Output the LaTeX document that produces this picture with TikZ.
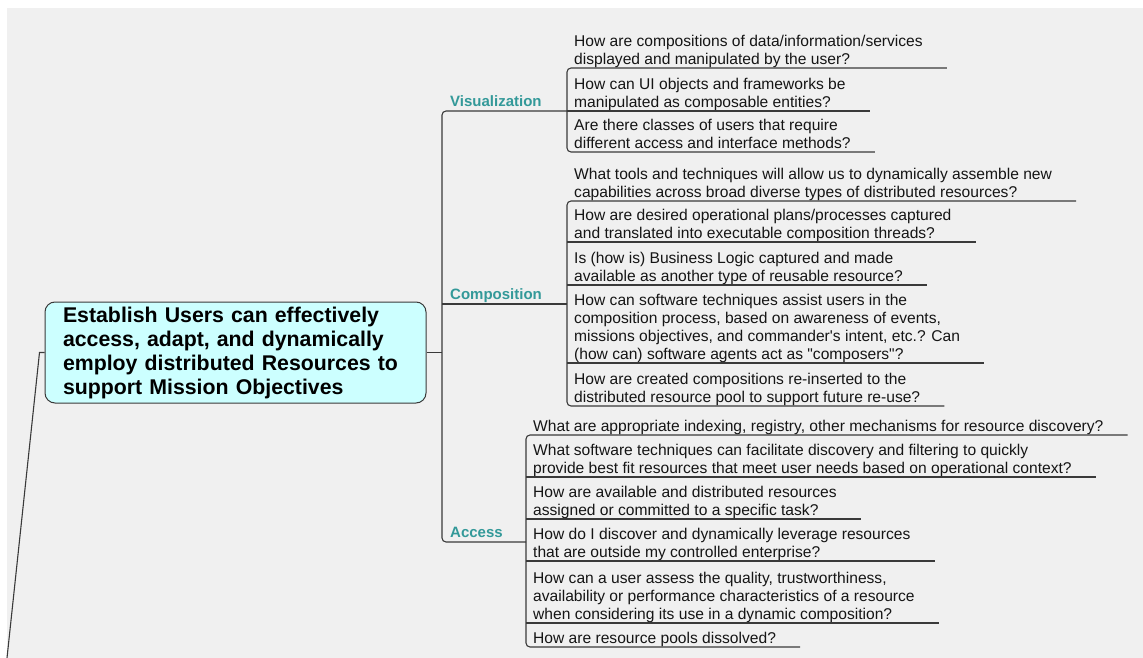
\documentclass[tikz,border=0pt]{standalone}
\usepackage{fontspec}
\setmainfont{Liberation Sans}
\usetikzlibrary{calc}
\definecolor{mapbg}{HTML}{F0F0F0}
\definecolor{mapcyan}{HTML}{CCFFFF}
\definecolor{mapteal}{HTML}{339999}
\definecolor{mapline}{HTML}{3A3A3A}
\definecolor{maptext}{HTML}{151515}
\tikzset{
  central/.style={draw=mapline, fill=mapcyan, rounded corners=10pt, line width=1pt, minimum width=381pt, minimum height=101pt, text width=345pt, align=left, font=\fontsize{21.3}{24}\selectfont\bfseries, text=black},
  topic/.style={anchor=south west, inner xsep=8pt, inner ysep=-1pt, font=\fontsize{15}{18}\selectfont\bfseries, text=mapteal, execute at end node=\strut},
  leaf/.style={anchor=south west, inner xsep=7pt, inner ysep=-2.5pt, align=left, font=\fontsize{15.6}{18}\selectfont, text=maptext, execute at end node=\strut},
  branch/.style={draw=mapline, line width=1.1pt},
}

\begin{document}
\begin{tikzpicture}[x=1pt, y=-1pt]
    \useasboundingbox (0,0) rectangle (1143,658);
    \fill[mapbg] (7,8) rectangle (1143,658);

    \node[central] (root) at (235.5,352.5) {Establish Users can effectively\\access, adapt, and dynamically\\employ distributed Resources to\\support Mission Objectives};

    \node[topic] (vis) at (442,111) {Visualization};
    \node[topic] (comp) at (442,304) {Composition};
    \node[topic] (acc) at (442,542) {Access};

    % visualization questions
    \node[leaf] (v1) at (567,68) {How are compositions of data/information/services\\displayed and manipulated by the user?};
    \node[leaf] (v2) at (567,111) {How can UI objects and frameworks be\\manipulated as composable entities?};
    \node[leaf] (v3) at (567,152) {Are there classes of users that require\\different access and interface methods?};

    % composition questions
    \node[leaf] (c1) at (567,201) {What tools and techniques will allow us to dynamically assemble new\\capabilities across broad diverse types of distributed resources?};
    \node[leaf] (c2) at (567,242) {How are desired operational plans/processes captured\\and translated into executable composition threads?};
    \node[leaf] (c3) at (567,285) {Is (how is) Business Logic captured and made\\available as another type of reusable resource?};
    \node[leaf] (c4) at (567,363) {How can software techniques assist users in the\\composition process, based on awareness of events,\\missions objectives, and commander\textquotesingle s intent, etc.? Can\\(how can) software agents act as \textquotedbl composers\textquotedbl ?};
    \node[leaf] (c5) at (567,406) {How are created compositions re-inserted to the\\distributed resource pool to support future re-use?};

    % access questions
    \node[leaf] (a1) at (526,435) {What are appropriate indexing, registry, other mechanisms for resource discovery?};
    \node[leaf] (a2) at (526,477) {What software techniques can facilitate discovery and filtering to quickly\\provide best fit resources that meet user needs based on operational context?};
    \node[leaf] (a3) at (526,519) {How are available and distributed resources\\assigned or committed to a specific task?};
    \node[leaf] (a4) at (526,561) {How do I discover and dynamically leverage resources\\that are outside my controlled enterprise?};
    \node[leaf] (a5) at (526,623) {How can a user assess the quality, trustworthiness,\\availability or performance characteristics of a resource\\when considering its use in a dynamic composition?};
    \node[leaf] (a6) at (526,647) {How are resource pools dissolved?};

    \coordinate (tail) at (7,658);
    \draw[branch] (root.west) -- ++(-5,0) -- (tail);
    \draw[branch] (root.east) -- (root.east -| vis.south west);
    \draw[branch, rounded corners=4pt] (vis.south west -| v1.south west) -- (vis.south west)
        -- (acc.south west) -- (acc.south west -| a1.south west);
    \draw[branch] (comp.south west) -- (comp.south west -| c1.south west);

    \draw[branch, rounded corners=4pt] ([xshift=17pt]v1.south east) -- (v1.south west) -- (v3.south west) -- ([xshift=17pt]v3.south east);
    \draw[branch, rounded corners=4pt] ([xshift=17pt]c1.south east) -- (c1.south west) -- (c5.south west) -- ([xshift=17pt]c5.south east);
    \draw[branch, rounded corners=4pt] ([xshift=17pt]a1.south east) -- (a1.south west) -- (a6.south west) -- ([xshift=17pt]a6.south east);
    \foreach \q in {v2,c2,c3,c4,a2,a3,a4,a5}
        \draw[branch] (\q.south west) -- ([xshift=17pt]\q.south east);
\end{tikzpicture}
\end{document}
